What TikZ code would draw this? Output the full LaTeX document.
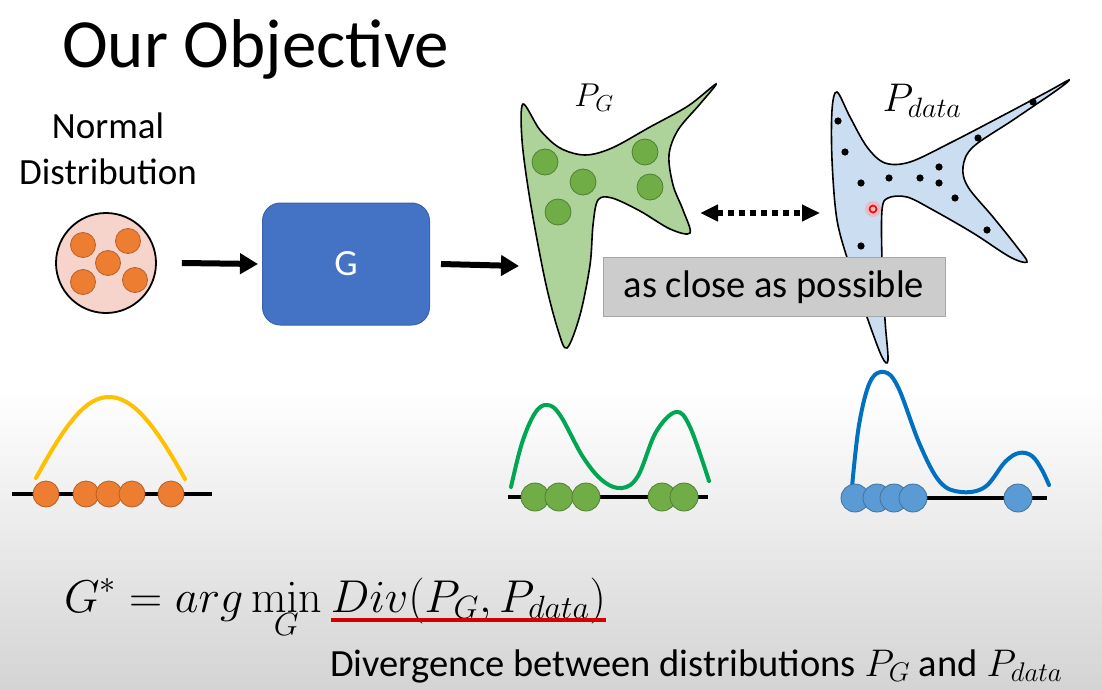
\documentclass[tikz,border=0pt]{standalone}
\usepackage{fix-cm}
\usepackage[no-math]{fontspec}
\setmainfont{Carlito}
\usetikzlibrary{arrows.meta}

\definecolor{genblue}{HTML}{4472C4}
\definecolor{genedge}{HTML}{3A62AE}
\definecolor{ndpink}{HTML}{F6D3CB}
\definecolor{dotorange}{HTML}{ED7D31}
\definecolor{edgeorange}{HTML}{B5602A}
\definecolor{pgfill}{HTML}{AED39A}
\definecolor{dotgreen}{HTML}{70AD47}
\definecolor{edgegreen}{HTML}{4F7F33}
\definecolor{pdfill}{HTML}{CADDF1}
\definecolor{dotblue}{HTML}{5B9BD5}
\definecolor{edgeblue}{HTML}{41719C}
\definecolor{curveyellow}{HTML}{FFC000}
\definecolor{curvegreen}{HTML}{00A652}
\definecolor{curveblue}{HTML}{0070C0}
\definecolor{boxgray}{HTML}{CCCCCC}
\definecolor{redline}{HTML}{D40000}

\begin{document}
\begin{tikzpicture}[x=1pt, y=-1pt,
  arr/.style={line width=6pt, -{Triangle[length=18pt,width=20pt]}},
  dotarr/.style={line width=6pt, dash pattern=on 6pt off 5pt,
    {Triangle[length=18pt,width=16pt]}-{Triangle[length=18pt,width=16pt]}},
  blob/.style={draw=black, line width=1.6pt},
  ballo/.style={fill=dotorange, draw=edgeorange, line width=0.8pt},
  ballg/.style={fill=dotgreen, draw=edgegreen, line width=0.8pt},
  ballb/.style={fill=dotblue, draw=edgeblue, line width=0.8pt},
  axis/.style={line width=4.5pt, black},
  density/.style={line width=4pt, line cap=round}]

  % Background
  \useasboundingbox (0,0) rectangle (1102,690);
  \fill[white] (0,0) rectangle (1102,690);
  \shade[top color=white, bottom color=black!17] (0,390) rectangle (1102,690);

  % Title
  \node (title) [anchor=base west, inner sep=0pt] at (62,68)
    {\fontsize{69}{80}\selectfont Our Objective};

  % Normal distribution
  \node (normal) [anchor=base, inner sep=0pt] at (108,139)
    {\fontsize{37}{44}\selectfont Normal};
  \node (distrib) [anchor=base, inner sep=0pt] at (108,184)
    {\fontsize{37}{44}\selectfont Distribution};
  \node (nd) [circle, minimum size=100pt, draw=black, line width=1.8pt,
    fill=ndpink] at (106,263) {};
  \foreach \x/\y in {83/245, 128/241, 108/263, 83/282, 135/280}
    \draw[ballo] (\x,\y) circle (12.5pt);

  % Generator
  \node (gen) [rounded corners=18pt, minimum width=167pt, minimum height=122pt,
    fill=genblue, draw=genedge, line width=1pt, text=white] at (346,264)
    {\fontsize{37}{44}\selectfont G};
  \draw[arr] ([xshift=25pt]nd.east) -- ([xshift=-4pt]gen.west);

  % P_G
  \coordinate (pgin) at (519,266);
  \draw[arr] ([xshift=11pt]gen.east) -- (pgin);
  \draw[blob, fill=pgfill] plot[smooth cycle, tension=0.55] coordinates {
    (523,104) (540,130) (560,148) (585,155) (612,148) (650,127) (688,106)
    (716,84) (700,104) (678,130) (669,155) (673,185) (683,210) (690,233)
    (670,229) (640,211) (612,198) (598,200) (593,225) (590,265) (580,315)
    (567,348) (558,330) (545,280) (530,200) (522,140)};
  \foreach \x/\y in {545/162, 583/182, 558/212, 645/152, 650/187}
    \draw[ballg] (\x,\y) circle (13pt);
  \node (pglabel) at (594,98) {\fontsize{33}{40}\selectfont $P_G$};

  % P_data
  \draw[blob, fill=pdfill] plot[smooth cycle, tension=0.55] coordinates {
    (837,92) (850,117) (867,147) (885,163) (910,162) (950,143) (1000,117)
    (1047,92) (1069,80) (1057,90) (1013,120) (973,147) (963,167) (968,187)
    (993,217) (1017,247) (1027,262) (1010,257) (973,233) (933,210) (907,197)
    (888,198) (882,210) (882,260) (885,320) (888,360) (882,357) (868,320)
    (850,267) (837,220) (832,160) (832,110)};
  \foreach \x/\y in {838/121, 845/152, 861/183, 889/178, 920/178, 939/167,
    939/183, 955/198, 978/138, 1033/102, 987/230, 861/246}
    \fill (\x,\y) circle (3.6pt);
  \fill[red!35, opacity=0.6] (873,209) circle (8pt);
  \draw[red, line width=1.6pt] (873,209) circle (3.5pt);
  \node (pdlabel) at (922,101) {\fontsize{40}{48}\selectfont $P_{data}$};

  % as close as possible
  \coordinate (pgright) at (700,213);
  \coordinate (pdleft) at (820,213);
  \draw[dotarr] (pgright) -- (pdleft);
  \node (close) [minimum width=342pt, minimum height=59pt, fill=boxgray,
    draw=black!35, line width=1pt] at (774,287)
    {\fontsize{38.5}{46}\selectfont as close as possible};

  % Densities
  \draw[density, curveyellow] (36,478) .. controls (65,425) and (85,397) .. (109,397)
    .. controls (133,397) and (155,425) .. (185,479);
  \draw[axis] (12,494) -- (212,494);
  \foreach \x in {46, 86, 109, 132, 171}
    \draw[ballo] (\x,494) circle (13pt);

  \draw[density, curvegreen] plot[smooth, tension=0.6] coordinates {
    (511,487) (522,443) (535,413) (547,405) (560,415) (583,457) (603,481)
    (622,488) (638,476) (656,432) (676,412) (690,427) (709,481)};
  \draw[axis] (508,497) -- (708,497);
  \foreach \x in {535, 559, 586, 662, 684}
    \draw[ballg] (\x,497) circle (14pt);

  \draw[density, curveblue] plot[smooth, tension=0.6] coordinates {
    (852,487) (859,425) (870,382) (884,372) (898,387) (920,445) (940,482)
    (961,492) (985,487) (1005,462) (1019,453) (1032,456) (1042,470) (1049,485)};
  \draw[axis] (852,498) -- (1047,498);
  \foreach \x in {855, 877, 894, 913, 1018}
    \draw[ballb] (\x,498) circle (14pt);

  % Objective
  \node (obj) [anchor=base west, inner sep=0pt] at (64,612)
    {\fontsize{46}{54}\selectfont $\displaystyle G^* = arg\min_G$};
  \node (div) [anchor=base west, inner sep=0pt] at ([xshift=9pt]obj.base east)
    {\fontsize{46}{54}\selectfont $Div(P_G, P_{data})$};
  \draw[redline, line width=4pt] ([yshift=-8pt]div.base west) -- ([yshift=-8pt]div.base east);
  \node (divtext) [anchor=base west, inner sep=0pt] at (330,676)
    {\fontsize{38.5}{46}\selectfont Divergence between distributions $P_G$ and $P_{data}$};
\end{tikzpicture}
\end{document}
